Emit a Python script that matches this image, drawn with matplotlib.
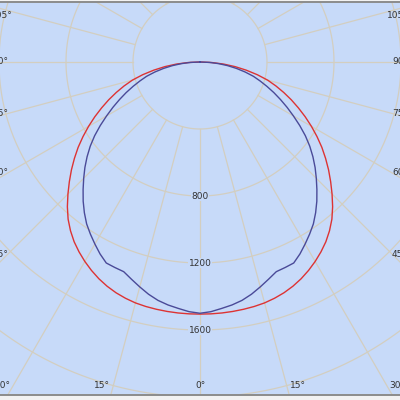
import numpy as np
import matplotlib
matplotlib.use("Agg")
import matplotlib.pyplot as plt

# ---- data (luminous intensity, cd, symmetric about 0°) ----
angles_deg = [0, 2.5, 5, 7.5, 10, 12.5, 15, 17.5, 20, 22.5, 25, 27.5, 30, 32.5, 35, 37.5,
              40, 42.5, 45, 47.5, 50, 52.5, 55, 57.5, 60, 62.5, 65, 67.5, 70, 72.5, 75,
              77.5, 80, 82.5, 85, 87.5, 90]
red_cd = [1505, 1505, 1504, 1502, 1499, 1495, 1489, 1479, 1466, 1449, 1428, 1403, 1375, 1344,
          1310, 1270, 1225, 1172, 1115, 1058, 1002, 945, 888, 828, 768, 708, 648, 590, 532,
          475, 418, 350, 280, 211, 141, 70, 0]
blue_cd = [1500, 1492, 1477, 1463, 1445, 1420, 1390, 1360, 1332, 1328, 1324, 1292, 1255, 1218,
           1180, 1134, 1085, 1033, 982, 932, 880, 826, 768, 706, 644, 586, 530, 477, 425,
           376, 330, 276, 221, 166, 111, 56, 0]
ring_values = [400, 800, 1200, 1600, 2000]
ring_labels = [800, 1200, 1600]
ray_angles = list(range(0, 360, 15))
angle_labels = [0, 15, 30, 45, 60, 75, 90, 105]

BG = "#C7DAF9"
GRID = "#D3CEC0"
RED = "#DD3333"
BLUE = "#4A4A98"
TXT = "#333333"

CPP = 5.97  # cd per pixel
ORIGIN_Y = 62
TOP, BOT = 2, 395

fig = plt.figure(figsize=(4, 4), dpi=100, facecolor="#F2F2F2")
ax = fig.add_axes([0, (400 - BOT) / 400, 1, (BOT - TOP) / 400])
ax.set_xlim(-200 * CPP, 200 * CPP)
ax.set_ylim(-(BOT - ORIGIN_Y) * CPP, (ORIGIN_Y - TOP) * CPP)
ax.set_facecolor(BG)
ax.set_xticks([])
ax.set_yticks([])
for s in ["left", "right"]:
    ax.spines[s].set_visible(False)
for s in ["top", "bottom"]:
    ax.spines[s].set_color("#8C8C8C")
    ax.spines[s].set_linewidth(1.4)

# rings
t = np.linspace(0, 2 * np.pi, 500)
for R in ring_values:
    ax.plot(R * np.sin(t), R * np.cos(t), color=GRID, lw=0.9, zorder=1)

# rays (from the inner ring outward)
r0, r1 = ring_values[0], 3000
for a in ray_angles:
    ar = np.radians(a)
    ax.plot([r0 * np.sin(ar), r1 * np.sin(ar)], [-r0 * np.cos(ar), -r1 * np.cos(ar)],
            color=GRID, lw=0.9, zorder=1)

# curves (mirror both halves)
def full(vals):
    ang = [-a for a in angles_deg[::-1][:-1]] + angles_deg
    v = vals[::-1][:-1] + vals
    th = np.radians(ang)
    v = np.array(v, float)
    return v * np.sin(th), -v * np.cos(th)

xr, yr = full(red_cd)
ax.plot(xr, yr, color=RED, lw=1.0, zorder=3, solid_joinstyle="round")
xb, yb = full(blue_cd)
ax.plot(xb, yb, color=BLUE, lw=1.0, zorder=4, solid_joinstyle="round")

# ring labels along 0° ray
for v in ring_labels:
    ax.text(0, -v, str(v), ha="center", va="center", fontsize=6.5, color=TXT, zorder=5,
            bbox=dict(facecolor=BG, edgecolor="none", pad=0.6))

# angle labels at the frame
xin = (200 - 8) * CPP
ybot = -(385 - ORIGIN_Y) * CPP
ytop = (ORIGIN_Y - 15) * CPP
for a in angle_labels:
    ar = np.radians(a)
    sa, ca = np.sin(ar), np.cos(ar)
    for sgn in ([1] if a == 0 else [-1, 1]):
        tx = xin / sa if sa > 1e-9 else np.inf
        ty = (-ybot) / ca if ca > 1e-9 else np.inf
        if tx < ty:
            yy = -tx * ca
            xx = sgn * xin
            if yy > ytop:
                yy = ytop
                xx = sgn * (xin - 5 * CPP)
        else:
            xx = sgn * (ty * sa + (3 * CPP if a else 0))
            yy = ybot
        ha = "center" if a == 0 else ("right" if sgn < 0 else "left")
        ax.text(xx, yy, f"{a}°", ha=ha, va="center", fontsize=6.5, color=TXT, zorder=5)

fig.savefig("out.png", dpi=100, facecolor=fig.get_facecolor())
